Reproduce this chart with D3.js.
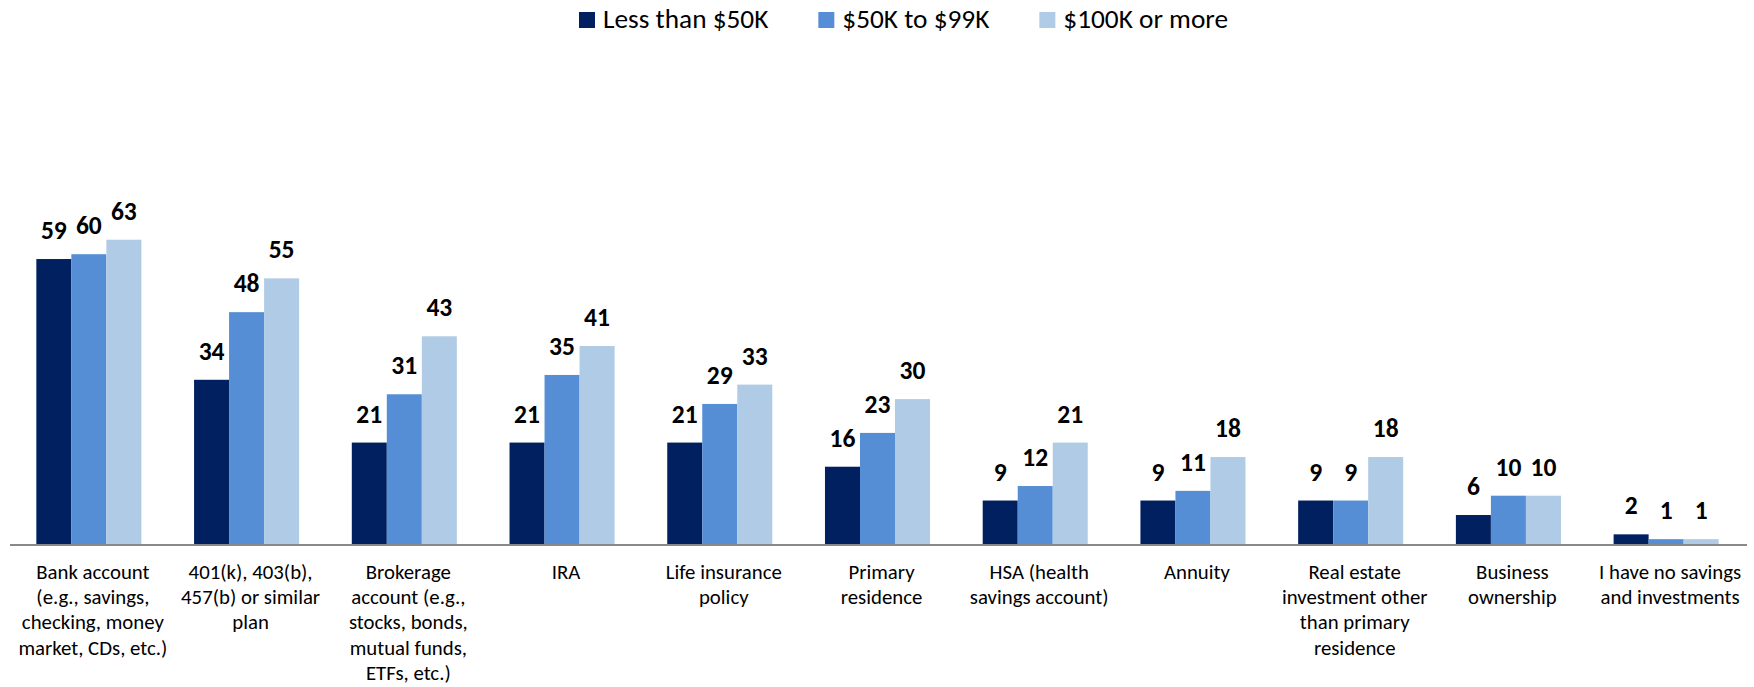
<!DOCTYPE html>
<html>
<head>
<meta charset="utf-8">
<script src="https://cdn.jsdelivr.net/npm/d3@7"></script>
<style>
  html, body { margin: 0; padding: 0; background: #ffffff; }
  svg { display: block; }
  text { font-family: Carlito, Lato, "Liberation Sans", sans-serif; }
</style>
</head>
<body>
<svg id="chart" width="1754" height="687"></svg>
<script>
const categories = [
  ["Bank account", "(e.g., savings,", "checking, money", "market, CDs, etc.)"],
  ["401(k), 403(b),", "457(b) or similar", "plan"],
  ["Brokerage", "account (e.g.,", "stocks, bonds,", "mutual funds,", "ETFs, etc.)"],
  ["IRA"],
  ["Life insurance", "policy"],
  ["Primary", "residence"],
  ["HSA (health", "savings account)"],
  ["Annuity"],
  ["Real estate", "investment other", "than primary", "residence"],
  ["Business", "ownership"],
  ["I have no savings", "and investments"]
];
const seriesNames = ["Less than $50K", "$50K to $99K", "$100K or more"];
const lessThan50K = [59, 34, 21, 21, 21, 16, 9, 9, 9, 6, 2];
const from50Kto99K = [60, 48, 31, 35, 29, 23, 12, 11, 9, 10, 1];
const over100K = [63, 55, 43, 41, 33, 30, 21, 18, 18, 10, 1];
const colors = ["#002060", "#558ED5", "#B0CBE6"];

const seriesValues = [lessThan50K, from50Kto99K, over100K];
const svg = d3.select("#chart");

const baseY = 544;
const x0 = d3.scaleBand()
  .domain(d3.range(categories.length))
  .range([10, 1745])
  .paddingInner(0.334)
  .paddingOuter(0.167);
const x1 = d3.scaleBand()
  .domain(d3.range(seriesNames.length))
  .range([0, x0.bandwidth()]);
const y = d3.scaleLinear().domain([0, 70]).range([baseY, baseY - 70 * 4.83]);

const groups = svg.append("g").selectAll("g")
  .data(categories.map((c, i) => i))
  .join("g")
  .attr("transform", i => `translate(${x0(i)},0)`);

groups.selectAll("rect")
  .data(i => seriesValues.map((s, k) => ({k, v: s[i]})))
  .join("rect")
  .attr("x", d => x1(d.k))
  .attr("width", x1.bandwidth())
  .attr("y", d => y(d.v))
  .attr("height", d => baseY - y(d.v))
  .attr("fill", d => colors[d.k]);

groups.selectAll("text.val")
  .data(i => seriesValues.map((s, k) => ({k, v: s[i]})))
  .join("text")
  .attr("class", "val")
  .attr("x", d => x1(d.k) + x1.bandwidth() / 2)
  .attr("y", d => y(d.v) - 20)
  .attr("text-anchor", "middle")
  .attr("font-weight", "bold")
  .attr("font-size", 25.5)
  .attr("fill", "#000")
  .text(d => d.v);

// axis line
svg.append("line")
  .attr("x1", 10).attr("x2", 1747)
  .attr("y1", baseY + 1).attr("y2", baseY + 1)
  .attr("stroke", "#898989").attr("stroke-width", 2);

// category labels
const labels = svg.append("g").selectAll("text")
  .data(categories)
  .join("text")
  .attr("text-anchor", "middle")
  .attr("font-size", 20.8)
  .attr("fill", "#000")
  .attr("transform", (c, i) => `translate(${x0(i) + x0.bandwidth() / 2 + 4},579)`);
labels.selectAll("tspan")
  .data(c => c)
  .join("tspan")
  .attr("x", 0)
  .attr("y", (d, j) => j * 25.2)
  .text(d => d);

// legend
const legend = svg.append("g");
let lx = 579;
seriesNames.forEach((name, k) => {
  legend.append("rect")
    .attr("x", lx).attr("y", 12).attr("width", 16).attr("height", 16)
    .attr("fill", colors[k]);
  const t = legend.append("text")
    .attr("x", lx + 24).attr("y", 28)
    .attr("font-size", 27.3)
    .attr("fill", "#000")
    .text(name);
  lx += 24 + t.node().getComputedTextLength() + 50;
});
</script>
</body>
</html>
